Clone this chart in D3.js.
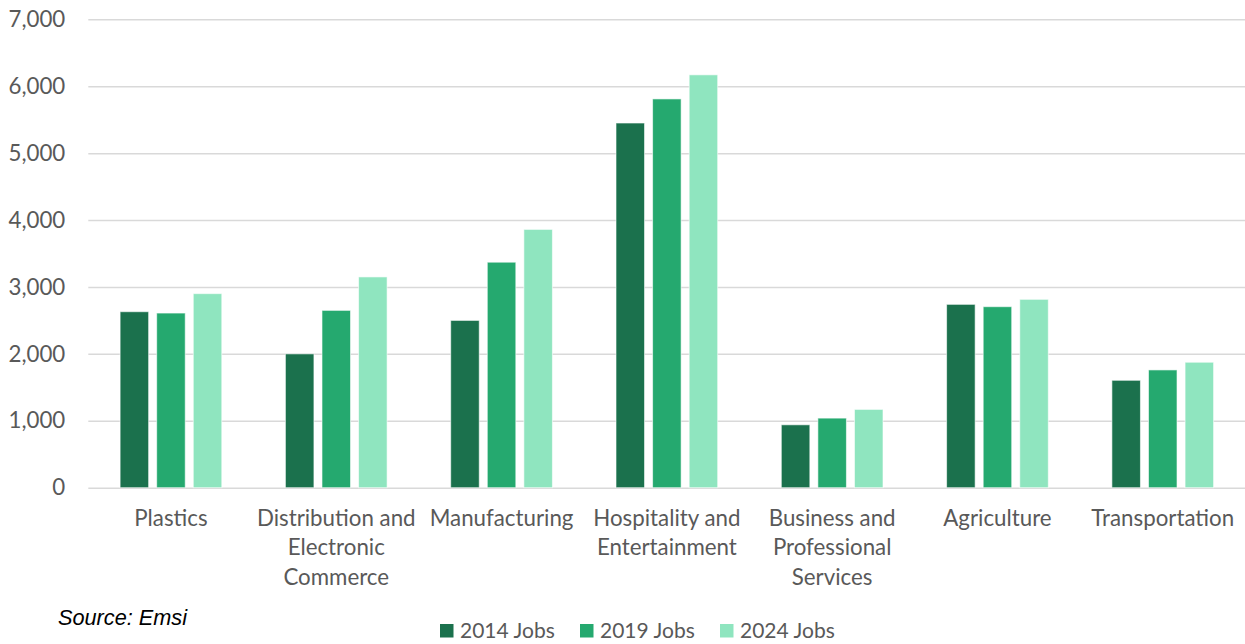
<!DOCTYPE html>
<html>
<head>
<meta charset="utf-8">
<script src="https://cdn.jsdelivr.net/npm/d3@7"></script>
<style>
  html, body { margin: 0; padding: 0; background: #ffffff; }
  svg { display: block; }
  text { font-family: Lato, "Liberation Sans", sans-serif; }
</style>
</head>
<body>
<svg id="chart" width="1245" height="644"></svg>
<script>
// Sectors and job counts by year
const categories = [
  ["Plastics"],
  ["Distribution and", "Electronic", "Commerce"],
  ["Manufacturing"],
  ["Hospitality and", "Entertainment"],
  ["Business and", "Professional", "Services"],
  ["Agriculture"],
  ["Transportation"]
];
const seriesNames = ["2014 Jobs", "2019 Jobs", "2024 Jobs"];
const jobs2014 = [2630, 2000, 2500, 5450, 940, 2740, 1605];
const jobs2019 = [2610, 2650, 3370, 5810, 1040, 2705, 1760];
const jobs2024 = [2900, 3150, 3860, 6170, 1170, 2815, 1875];
const yTicks = [0, 1000, 2000, 3000, 4000, 5000, 6000, 7000];
const seriesColors = ["#1b714d", "#25a96f", "#8fe5bf"];

const series = [jobs2014, jobs2019, jobs2024];
const catKeys = categories.map(c => c.join(" "));

const svg = d3.select("#chart");
const plot = { left: 88.3, right: 1245.4, top: 19.3, bottom: 487.7 };

const x = d3.scaleBand().domain(catKeys).range([plot.left, plot.right]).padding(0);
const xs = d3.scaleBand().domain(seriesNames)
  .range([31.8, x.bandwidth() - 31.8]).paddingInner(0.22).paddingOuter(0);
const y = d3.scaleLinear().domain([0, 7000]).range([plot.bottom, plot.top]);

// Horizontal gridlines with tick labels
const yAxis = d3.axisLeft(y).tickValues(yTicks).tickFormat(d3.format(",")).tickSize(0).tickPadding(23);
const gy = svg.append("g").attr("transform", `translate(${plot.left},0)`).call(yAxis);
gy.select(".domain").remove();
gy.selectAll("text").attr("fill", "#595959").style("font-size", "22.3px");
gy.selectAll(".tick").append("line")
  .attr("x1", 0).attr("x2", plot.right - plot.left)
  .attr("stroke", "#d9d9d9").attr("stroke-width", 1.5);

// Bars
const groups = svg.append("g").selectAll("g")
  .data(catKeys)
  .join("g")
  .attr("transform", d => `translate(${x(d)},0)`);

groups.selectAll("rect")
  .data((d, i) => seriesNames.map((s, j) => ({ s, j, v: series[j][i] })))
  .join("rect")
  .attr("x", d => xs(d.s))
  .attr("width", xs.bandwidth())
  .attr("y", d => y(d.v))
  .attr("height", d => y(0) - y(d.v))
  .attr("fill", d => seriesColors[d.j])
  .attr("stroke", "#ffffff")
  .attr("stroke-opacity", 0.6)
  .attr("stroke-width", 1);

// Category labels (multi-line)
const xAxis = d3.axisBottom(x).tickSize(0).tickFormat("");
const gx = svg.append("g").attr("transform", `translate(0,${plot.bottom})`).call(xAxis);
gx.select(".domain").remove();
gx.selectAll(".tick").each(function (d, i) {
  const t = d3.select(this).append("text")
    .attr("fill", "#595959")
    .attr("text-anchor", "middle")
    .style("font-size", "22.3px");
  categories[i].forEach((line, k) => {
    t.append("tspan").attr("x", 0).attr("y", 38 + k * 29.5).text(line);
  });
});

// Source note
svg.append("text")
  .attr("x", 58).attr("y", 625)
  .attr("fill", "#000000")
  .style("font-family", "'Liberation Sans', Arial, sans-serif")
  .style("font-size", "21.7px")
  .style("font-style", "italic")
  .text("Source: Emsi");

// Legend
const legend = svg.append("g").attr("transform", "translate(440,624)");
const li = legend.selectAll("g").data(seriesNames).join("g")
  .attr("transform", (d, i) => `translate(${i * 140},0)`);
li.append("rect").attr("width", 13.5).attr("height", 13.5)
  .attr("fill", (d, i) => seriesColors[i]);
li.append("text").attr("x", 20).attr("y", 13.5)
  .attr("fill", "#595959").style("font-size", "21px").text(d => d);
</script>
</body>
</html>
